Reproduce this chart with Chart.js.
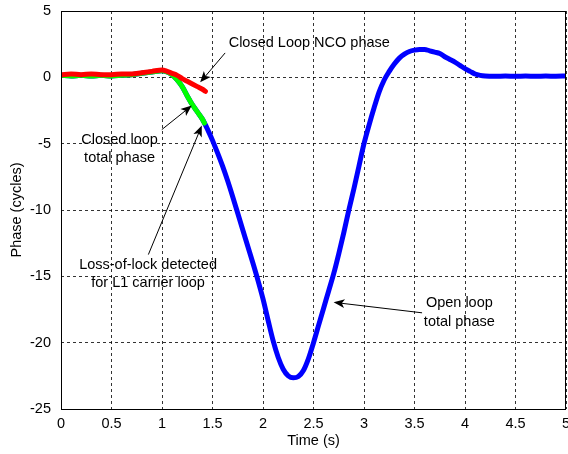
<!DOCTYPE html>
<html>
<head>
<meta charset="utf-8">
<script src="https://cdn.jsdelivr.net/npm/chart.js@4/dist/chart.umd.min.js"></script>
<style>
  html, body { margin: 0; padding: 0; background: #fff; }
  canvas { display: block; }
</style>
</head>
<body>
<canvas id="phaseChart" width="568" height="454"></canvas>
<script>

// open loop total phase (cycles) vs time (s)
const openT = [0, 0.1, 0.2, 0.3, 0.4, 0.5, 0.6, 0.7, 0.8, 0.9, 1.0, 1.05, 1.1, 1.15, 1.2, 1.25, 1.3, 1.35, 1.4, 1.45,
    1.5, 1.55, 1.6, 1.65, 1.7, 1.75, 1.8, 1.85, 1.9, 1.95, 2.0, 2.05, 2.1, 2.15, 2.2, 2.25, 2.3, 2.35, 2.4, 2.45,
    2.5, 2.55, 2.6, 2.65, 2.7, 2.75, 2.8, 2.85, 2.9, 2.95, 3.0, 3.05, 3.1, 3.15, 3.2, 3.25, 3.3, 3.35, 3.4, 3.45,
    3.5, 3.55, 3.6, 3.65, 3.7, 3.75, 3.8, 3.85, 3.9, 3.95, 4.0, 4.05, 4.1, 4.15, 4.2, 4.3, 4.4, 4.5, 4.6, 4.7, 4.8, 4.9, 5.0];
const openPhase = [0.15, 0.1, 0.15, 0.1, 0.15, 0.1, 0.15, 0.2, 0.3, 0.4, 0.5, 0.4, 0.2, -0.2, -0.7, -1.4, -2.05, -2.6, -3.15, -3.9,
    -4.75, -5.7, -6.7, -7.8, -9.0, -10.25, -11.5, -12.75, -14.0, -15.3, -16.7, -18.3, -19.85, -21.1, -22.0, -22.5, -22.65, -22.55, -22.1, -21.2,
    -20.0, -18.7, -17.4, -16.1, -14.8, -13.3, -11.7, -10.0, -8.4, -6.7, -5.0, -3.6, -2.3, -1.1, -0.2, 0.45, 1.0, 1.45, 1.75, 1.95,
    2.05, 2.1, 2.1, 2.0, 1.9, 1.8, 1.55, 1.35, 1.15, 0.9, 0.65, 0.45, 0.25, 0.15, 0.1, 0.08, 0.1, 0.08, 0.1, 0.08, 0.1, 0.08, 0.1];

// closed loop total phase, until loss of lock
const closedT = [0, 0.1, 0.2, 0.3, 0.4, 0.5, 0.6, 0.7, 0.8, 0.9, 1.0, 1.05, 1.1, 1.15, 1.2, 1.25, 1.3, 1.35, 1.4, 1.42];
const closedTotal = [0.15, 0.1, 0.15, 0.1, 0.15, 0.1, 0.15, 0.2, 0.3, 0.4, 0.5, 0.4, 0.2, -0.2, -0.7, -1.4, -2.05, -2.6, -3.15, -3.45];

// closed loop NCO phase
const ncoT = [0, 0.1, 0.2, 0.3, 0.4, 0.5, 0.6, 0.7, 0.8, 0.9, 1.0, 1.05, 1.1, 1.15, 1.2, 1.25, 1.3, 1.35, 1.4, 1.43];
const ncoPhase = [0.2, 0.25, 0.2, 0.25, 0.2, 0.2, 0.25, 0.25, 0.35, 0.45, 0.55, 0.45, 0.3, 0.15, -0.1, -0.3, -0.5, -0.7, -0.9, -1.05];

// text labels with arrows, in axis units
const notes = [
    { lines: ["Closed Loop NCO phase"], at: [2.458, 2.58], from: [1.625, 1.84], to: [1.378, -0.38] },
    { lines: ["Closed loop", "total phase"], at: [0.58, -5.39], from: [0.998, -3.94], to: [1.295, -2.13] },
    { lines: ["Loss-of-lock detected", "for L1 carrier loop"], at: [0.862, -14.83], from: [0.865, -13.36], to: [1.394, -3.64] },
    { lines: ["Open loop", "total phase"], at: [3.944, -17.72], from: [3.575, -17.75], to: [2.699, -16.96] }
];

const FONT = "Liberation Sans, Arial, Helvetica, sans-serif";

function pts(xs, ys){
    return xs.map((x, i) => ({ x: x, y: ys[i] }));
}

function arrow(ctx, x1, y1, x2, y2){
    const a = Math.atan2(y2 - y1, x2 - x1);
    const len = 11, half = 4.5;
    ctx.beginPath();
    ctx.moveTo(x1, y1);
    ctx.lineTo(x2 - Math.cos(a) * len * 0.7, y2 - Math.sin(a) * len * 0.7);
    ctx.stroke();
    ctx.beginPath();
    ctx.moveTo(x2, y2);
    ctx.lineTo(x2 - Math.cos(a) * len + Math.sin(a) * half, y2 - Math.sin(a) * len - Math.cos(a) * half);
    ctx.lineTo(x2 - Math.cos(a) * len * 0.75, y2 - Math.sin(a) * len * 0.75);
    ctx.lineTo(x2 - Math.cos(a) * len - Math.sin(a) * half, y2 - Math.sin(a) * len + Math.cos(a) * half);
    ctx.closePath();
    ctx.fill();
}

// frame box + annotations
const boxAndNotes = {
    id: "boxAndNotes",
    afterDraw(chart){
        const ctx = chart.ctx;
        const a = chart.chartArea;
        const sx = chart.scales.x, sy = chart.scales.y;
        ctx.save();
        ctx.strokeStyle = "#000";
        ctx.lineWidth = 1;
        ctx.strokeRect(Math.round(a.left) + 0.5, Math.round(a.top) + 0.5,
            Math.round(a.right - a.left) - 1, Math.round(a.bottom - a.top));

        ctx.fillStyle = "#000";
        ctx.font = "14.5px " + FONT;
        ctx.textAlign = "center";
        ctx.textBaseline = "middle";
        notes.forEach(n => {
            const cx = sx.getPixelForValue(n.at[0]);
            const cy = sy.getPixelForValue(n.at[1]);
            const lh = 18.5;
            n.lines.forEach((t, i) => {
                ctx.fillText(t, cx, cy + (i - (n.lines.length - 1) / 2) * lh);
            });
            arrow(ctx,
                sx.getPixelForValue(n.from[0]), sy.getPixelForValue(n.from[1]),
                sx.getPixelForValue(n.to[0]), sy.getPixelForValue(n.to[1]));
        });
        ctx.restore();
    }
};

new Chart(
    document.getElementById("phaseChart"),
    {
        type: "line",
        data: {
            datasets: [
                {
                    label: "Closed Loop NCO phase",
                    data: pts(ncoT, ncoPhase),
                    borderColor: "#ff0000",
                    borderWidth: 5,
                    order: 1
                },
                {
                    label: "Closed loop total phase",
                    data: pts(closedT, closedTotal),
                    borderColor: "#00ff00",
                    borderWidth: 5,
                    order: 2
                },
                {
                    label: "Open loop total phase",
                    data: pts(openT, openPhase),
                    borderColor: "#0000ff",
                    borderWidth: 5,
                    order: 3
                }
            ]
        },
        options: {
            responsive: false,
            animation: false,
            events: [],
            layout: { padding: { top: 11, right: 2, left: 0, bottom: 0 } },
            elements: {
                point: { radius: 0 },
                line: { cubicInterpolationMode: "monotone", fill: false, borderCapStyle: "round", borderJoinStyle: "round" }
            },
            plugins: {
                legend: { display: false },
                tooltip: { enabled: false }
            },
            scales: {
                x: {
                    type: "linear",
                    min: 0,
                    max: 5,
                    ticks: {
                        stepSize: 0.5, color: "#000", padding: 6, maxRotation: 0,
                        font: { family: FONT, size: 14.5 },
                        callback: v => String(v)
                    },
                    grid: { color: "rgba(0,0,0,0.8)", lineWidth: 1, drawTicks: false },
                    border: { display: false, dash: [3, 3] },
                    title: { display: true, text: "Time (s)", color: "#000", font: { family: FONT, size: 14.5 }, padding: { top: 0, bottom: 4 } },
                    afterFit(scale){ scale.height = 45; scale.paddingLeft = 0; scale.paddingRight = 0; }
                },
                y: {
                    min: -25,
                    max: 5,
                    ticks: {
                        stepSize: 5, color: "#000", padding: 10,
                        font: { family: FONT, size: 14.5 },
                        callback: v => String(v)
                    },
                    grid: { color: "rgba(0,0,0,0.8)", lineWidth: 1, drawTicks: false },
                    border: { display: false, dash: [3, 3] },
                    title: { display: true, text: "Phase (cycles)", color: "#000", font: { family: FONT, size: 14.5 }, padding: { top: 8, bottom: 0 } },
                    afterFit(scale){ scale.width = 61; scale.paddingTop = 0; scale.paddingBottom = 0; }
                }
            }
        },
        plugins: [boxAndNotes]
    }
);

</script>
</body>
</html>
